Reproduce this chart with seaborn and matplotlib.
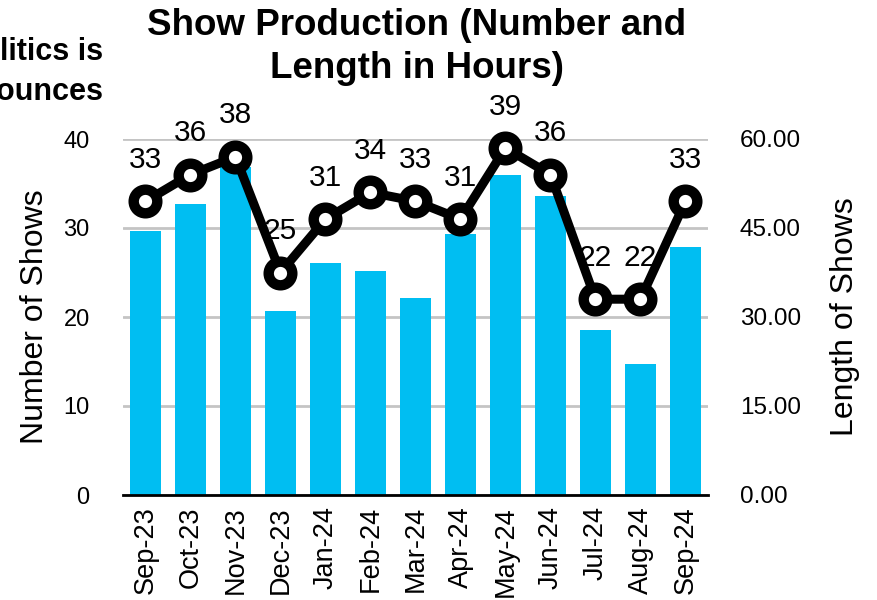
import matplotlib
matplotlib.use("Agg")
import matplotlib.pyplot as plt
import seaborn as sns
import pandas as pd

months = ["Sep-23", "Oct-23", "Nov-23", "Dec-23", "Jan-24", "Feb-24", "Mar-24",
          "Apr-24", "May-24", "Jun-24", "Jul-24", "Aug-24", "Sep-24"]
num_shows = [33, 36, 38, 25, 31, 34, 33, 31, 39, 36, 22, 22, 33]
length_hours = [44.5, 49.0, 55.3, 31.0, 39.1, 37.7, 33.2, 44.0, 53.9, 50.4, 27.8, 22.1, 41.8]
left_ticks = [0, 10, 20, 30, 40]
right_ticks = [0, 15, 30, 45, 60]

sns.set_theme(style="white")
plt.rcParams["font.family"] = ["Liberation Sans", "DejaVu Sans"]
plt.rcParams["text.color"] = "black"
plt.rcParams["axes.labelcolor"] = "black"
plt.rcParams["xtick.color"] = "black"
plt.rcParams["ytick.color"] = "black"

df = pd.DataFrame({"month": months, "shows": num_shows, "hours": length_hours})

fig = plt.figure(figsize=(8.78, 6.0), dpi=100)
ax1 = fig.add_axes([123 / 878, 1 - 495 / 600, (708 - 123) / 878, (495 - 139) / 600])
ax2 = ax1.twinx()

# Bars on right axis (hours)
sns.barplot(data=df, x="month", y="hours", ax=ax2, color="#00BEF2", saturation=1,
            width=0.71, edgecolor="none", zorder=2)
ax2.set_ylim(0, 60)
ax2.set_yticks(right_ticks)
ax2.set_yticklabels([f"{v:.2f}" for v in right_ticks])
ax2.yaxis.grid(True, color="#c4c4c4", linewidth=2, zorder=0)
ax2.set_axisbelow(True)
ax2.set_ylabel("Length of Shows", fontsize=23, labelpad=21)
ax2.tick_params(axis="y", length=0, pad=23, labelsize=17.5)

# Line on left axis (count)
sns.pointplot(data=df, x="month", y="shows", ax=ax1, color="black", markers="o",
              linestyles="-", markersize=17, linewidth=6.5)
for ln in ax1.lines:
    ln.set_markerfacecolor("white")
    ln.set_markeredgecolor("black")
    ln.set_markeredgewidth(7.5)
    ln.set_markersize(17)
    ln.set_linewidth(6.5)
    ln.set_clip_on(False)
    ln.set_zorder(5)
for i, v in enumerate(num_shows):
    ax1.annotate(str(v), (i, v), xytext=(0, 24), textcoords="offset points",
                 ha="center", va="baseline", fontsize=21.5, color="black", zorder=6)

ax1.set_ylim(0, 40)
ax1.set_yticks(left_ticks)
ax1.set_ylabel("Number of Shows", fontsize=23, labelpad=10)
ax1.tick_params(axis="y", length=0, pad=24, labelsize=17)
ax1.set_xlim(-0.5, len(months) - 0.5)
ax1.set_xlabel("")
ax2.set_xlabel("")
ax1.set_zorder(ax2.get_zorder() + 1)
ax1.patch.set_visible(False)

ax1.set_xticks(range(len(months)))
ax1.set_xticklabels(months, rotation=90, fontsize=19.5)
ax1.tick_params(axis="x", length=0, pad=8)

for a in (ax1, ax2):
    for s in ("top", "left", "right", "bottom"):
        a.spines[s].set_visible(False)
ax2.spines["bottom"].set_visible(True)
ax2.spines["bottom"].set_color("black")
ax2.spines["bottom"].set_linewidth(2)

fig.text(0.475, 1 - 8 / 600, "Show Production (Number and\nLength in Hours)",
         ha="center", va="top", fontsize=26.5, fontweight="bold", linespacing=1.3)
fig.text(103 / 878, 1 - 52 / 600, "Politics is", ha="right", va="center",
         fontsize=22, fontweight="bold")
fig.text(103 / 878, 1 - 92 / 600, "Bounces", ha="right", va="center",
         fontsize=22, fontweight="bold")

fig.savefig("out.png", dpi=100)
